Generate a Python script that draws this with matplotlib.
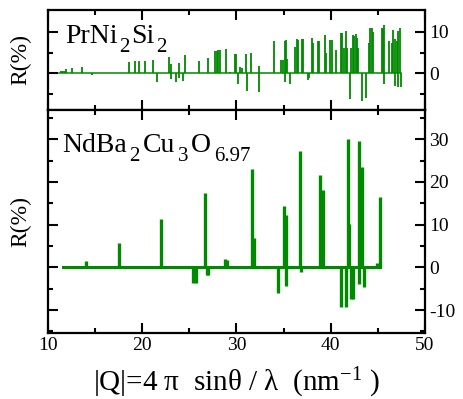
import matplotlib
matplotlib.use('Agg')
import matplotlib.pyplot as plt
from matplotlib.ticker import MultipleLocator, FixedLocator

# ===============================
# DATA
# ===============================
q_pr = [11.45, 11.6, 11.8, 11.95, 12.6, 13.6, 14.65, 16.4, 18.0, 18.6,
        19.3, 19.7, 20.3, 21.2, 21.6, 22.8, 23.1, 23.1, 23.55, 23.9,
        23.9, 24.3, 24.6, 26.05, 27.0, 27.7, 27.9, 28.1, 28.3, 28.9,
        29.3, 29.8, 30.0, 30.2, 30.4, 30.6, 31.0, 31.1, 31.5, 32.4,
        32.4, 33.95, 34.75, 34.9, 35.1, 35.15, 35.25, 35.35, 35.65, 36.2,
        36.4, 36.5, 36.95, 37.1, 37.55, 37.75, 38.0, 38.12, 38.65, 38.75,
        39.35, 39.5, 39.95, 40.1, 40.55, 41.05, 41.2, 41.45, 41.6, 41.7,
        42.05, 42.15, 42.35, 42.5, 42.65, 42.75, 42.9, 43.3, 43.7, 44.05,
        44.2, 44.35, 44.5, 45.4, 45.5, 45.6, 45.65, 46.2, 46.45, 46.6,
        46.8, 46.8, 47.0, 47.15, 47.15, 47.35, 47.45]
r_pr = [0.5, 0.6, 0.6, 1.0, 1.2, 1.6, -0.5, 0.2, 0.2, 2.8,
        3.0, 2.9, 3.0, 3.3, -2.0, 3.9, 2.2, -1.4, -2.1, 2.5,
        -1.1, -1.7, 4.3, 3.0, 3.6, 5.3, 5.3, 5.5, 5.5, 5.8,
        0.3, 4.6, 4.6, -2.5, 1.5, 1.4, 4.6, -4.2, 4.8, 1.8,
        -4.4, 7.7, 3.3, 3.1, 7.8, -2.1, 8.0, 3.4, -2.6, 6.4,
        8.2, 8.1, 8.2, 8.2, -1.6, -1.2, 8.5, 7.2, 7.7, 7.7,
        9.3, 5.0, 7.9, 7.9, 5.7, 9.8, 9.7, 6.1, 10.2, 6.1,
        -6.2, 6.0, 9.3, 9.0, 9.4, 8.4, 6.0, -6.6, -5.8, 7.2,
        11.0, 10.8, 10.0, 10.8, 10.6, -2.6, 11.6, 7.8, 7.4, 10.5,
        8.2, -3.0, 7.8, 10.2, -3.3, 11.0, -3.2]
pr_range = [11.2, 47.45]

q_nd = [14.0, 17.6, 22.0, 25.45, 25.75, 26.7, 26.85, 27.0, 28.8, 29.0,
        31.65, 31.9, 34.4, 35.0, 35.25, 35.25, 36.7, 36.85, 38.9, 39.15,
        41.05, 41.6, 41.8, 41.95, 42.15, 42.35, 43.0, 43.0, 43.3, 43.55,
        44.95, 45.2]
r_nd = [1.6, 5.7, 11.4, -3.6, -3.6, 17.3, -1.9, -1.9, 2.0, 1.8,
        23.0, 6.8, -5.9, 14.3, 12.2, -4.4, 27.2, -1.0, 21.7, 18.0,
        -9.3, -9.3, 30.0, 10.1, -7.5, -7.5, 29.5, -4.0, 23.5, -4.6,
        1.0, 16.5]
nd_range = [11.6, 45.25]

pr_label = [('PrNi', False), ('2', True), ('Si', False), ('2', True)]
nd_label = [('NdBa', False), ('2', True), ('Cu', False), ('3', True),
            ('O', False), ('6.97', True)]

GREEN = '#008a00'

plt.rcParams['font.family'] = ['Liberation Serif', 'DejaVu Serif']
plt.rcParams['mathtext.fontset'] = 'custom'
plt.rcParams['mathtext.rm'] = 'Liberation Serif'
plt.rcParams['mathtext.it'] = 'Liberation Serif:italic'
plt.rcParams['axes.unicode_minus'] = False

fig = plt.figure(figsize=(4.64, 3.99), dpi=100)
ax1 = fig.add_axes([0.103, 0.724, 0.813, 0.252])
ax2 = fig.add_axes([0.103, 0.165, 0.813, 0.559])


def style(ax, minor_y):
    for s in ax.spines.values():
        s.set_linewidth(1.6)
    ax.set_xlim(10, 50)
    ax.xaxis.set_major_locator(MultipleLocator(10))
    ax.xaxis.set_minor_locator(MultipleLocator(5))
    ax.yaxis.set_minor_locator(FixedLocator(minor_y))
    ax.tick_params(which='both', direction='in', top=True, bottom=True,
                   left=True, right=True, labelleft=False, labelright=True,
                   width=1.5, labelsize=14, pad=3)
    ax.tick_params(which='major', length=7)
    ax.tick_params(which='minor', length=3.5)
    ax.set_ylabel('R(%)', fontsize=17, labelpad=12)


def formula(ax, x, y, parts, size=20, subsize=15, drop=6, gap=2.0):
    # chain text pieces so the subscripts sit low like in the original
    prev = ax.text(x, y, parts[0][0], transform=ax.transAxes,
                   fontsize=size, va='baseline', ha='left')
    prev_sub = parts[0][1]
    for txt, sub in parts[1:]:
        dy = 0
        if sub and not prev_sub:
            dy = -drop
        elif prev_sub and not sub:
            dy = drop
        prev = ax.annotate(txt, xy=(1, 0), xycoords=prev, xytext=(gap, dy),
                           textcoords='offset points', va='bottom', ha='left',
                           fontsize=subsize if sub else size)
        prev_sub = sub


# --- top panel: PrNi2Si2
ax1.plot(pr_range, [0, 0], color=GREEN, lw=1.1)
ax1.vlines(q_pr, 0, r_pr, color=GREEN, lw=1.3)
ax1.set_ylim(-8.8, 15.3)
ax1.set_yticks([0, 10])
style(ax1, [-5, 5])
ax1.tick_params(labelbottom=False)
formula(ax1, 0.045, 0.667, pr_label, gap=1.2)

# --- bottom panel: NdBa2Cu3O6.97
ax2.plot(nd_range, [0, 0], color=GREEN, lw=2.2)
ax2.vlines(q_nd, 0, r_nd, color=GREEN, lw=2.4)
ax2.set_ylim(-15.4, 36.8)
ax2.set_yticks([-10, 0, 10, 20, 30])
style(ax2, [-15, -5, 5, 15, 25, 35])
formula(ax2, 0.037, 0.812, nd_label)
ax2.set_xlabel(r'|Q|=4 π  sinθ / λ  (nm$^{-1}$ )', fontsize=21, labelpad=8)

fig.savefig('out.png', dpi=100)
